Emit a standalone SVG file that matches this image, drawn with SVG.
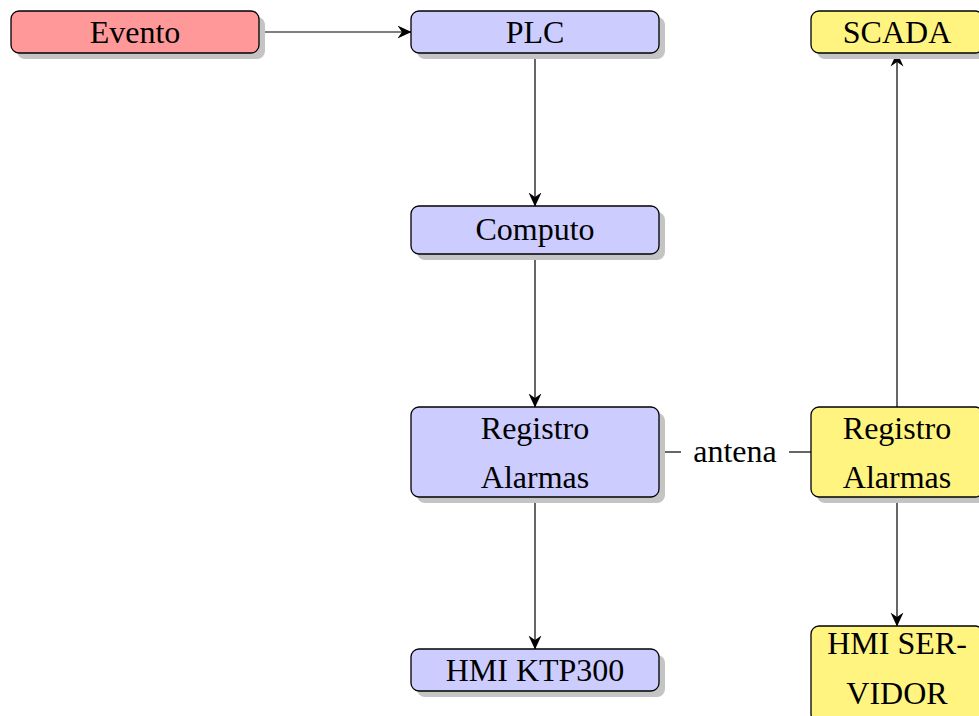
<svg xmlns="http://www.w3.org/2000/svg" width="979" height="716" viewBox="0 0 979 716">
  <defs>
    <marker id="arrow" viewBox="0 0 14 14" refX="13.5" refY="7" markerWidth="14" markerHeight="14" markerUnits="userSpaceOnUse" orient="auto">
      <path d="M0,0.5 L14,7 L0,13.5 L4.5,7 Z" fill="#000"/>
    </marker>
    <filter id="soft" x="-10%" y="-10%" width="130%" height="140%">
      <feGaussianBlur stdDeviation="0.7"/>
    </filter>
  </defs>
  <style>
    .shadow { fill: #c4c4c4; filter: url(#soft); }
    .box { stroke: #000; stroke-width: 1.3; }
    .red { fill: #ff9999; }
    .blue { fill: #ccccff; }
    .yellow { fill: #fff480; }
    .label { font-family: "Liberation Serif", "DejaVu Serif", serif; font-size: 32px; fill: #000; text-anchor: middle; }
    .edge { stroke: #000; stroke-width: 1.2; fill: none; }
  </style>
  <rect width="979" height="716" fill="#fff"/>

  <!-- connectors -->
  <g id="connectors">
    <line class="edge" x1="259" y1="32" x2="411" y2="32" marker-end="url(#arrow)"/>
    <line class="edge" x1="535" y1="53" x2="535" y2="206" marker-end="url(#arrow)"/>
    <line class="edge" x1="535" y1="254" x2="535" y2="407" marker-end="url(#arrow)"/>
    <line class="edge" x1="535" y1="497" x2="535" y2="649" marker-end="url(#arrow)"/>
    <line class="edge" x1="897" y1="407" x2="897" y2="53" marker-end="url(#arrow)"/>
    <line class="edge" x1="897" y1="497" x2="897" y2="626" marker-end="url(#arrow)"/>
    <line class="edge" x1="659" y1="452" x2="681" y2="452"/>
    <line class="edge" x1="789" y1="452" x2="811" y2="452"/>
    <text class="label" x="735" y="462">antena</text>
  </g>

  <!-- nodes -->
  <g id="evento">
    <rect class="shadow" x="17" y="17" width="248" height="42" rx="8"/>
    <rect class="box red" x="11" y="11" width="248" height="42" rx="8"/>
    <text class="label" x="135" y="43">Evento</text>
  </g>
  <g id="plc">
    <rect class="shadow" x="417" y="17" width="248" height="42" rx="8"/>
    <rect class="box blue" x="411" y="11" width="248" height="42" rx="8"/>
    <text class="label" x="535" y="43">PLC</text>
  </g>
  <g id="scada">
    <rect class="shadow" x="817" y="17" width="172" height="42" rx="8"/>
    <rect class="box yellow" x="811" y="11" width="172" height="42" rx="8"/>
    <text class="label" x="897" y="43">SCADA</text>
  </g>
  <g id="computo">
    <rect class="shadow" x="417" y="212" width="248" height="48" rx="8"/>
    <rect class="box blue" x="411" y="206" width="248" height="48" rx="8"/>
    <text class="label" x="535" y="240">Computo</text>
  </g>
  <g id="registro-plc">
    <rect class="shadow" x="417" y="413" width="248" height="90" rx="8"/>
    <rect class="box blue" x="411" y="407" width="248" height="90" rx="8"/>
    <text class="label" x="535" y="439">Registro</text>
    <text class="label" x="535" y="488">Alarmas</text>
  </g>
  <g id="registro-scada">
    <rect class="shadow" x="817" y="413" width="172" height="90" rx="8"/>
    <rect class="box yellow" x="811" y="407" width="172" height="90" rx="8"/>
    <text class="label" x="897" y="439">Registro</text>
    <text class="label" x="897" y="488">Alarmas</text>
  </g>
  <g id="hmi-ktp300">
    <rect class="shadow" x="417" y="655" width="248" height="42" rx="8"/>
    <rect class="box blue" x="411" y="649" width="248" height="42" rx="8"/>
    <text class="label" x="535" y="681">HMI KTP300</text>
  </g>
  <g id="hmi-servidor">
    <rect class="shadow" x="817" y="632" width="172" height="96" rx="8"/>
    <rect class="box yellow" x="811" y="626" width="172" height="96" rx="8"/>
    <text class="label" x="897" y="654">HMI SER-</text>
    <text class="label" x="897" y="704">VIDOR</text>
  </g>
</svg>
